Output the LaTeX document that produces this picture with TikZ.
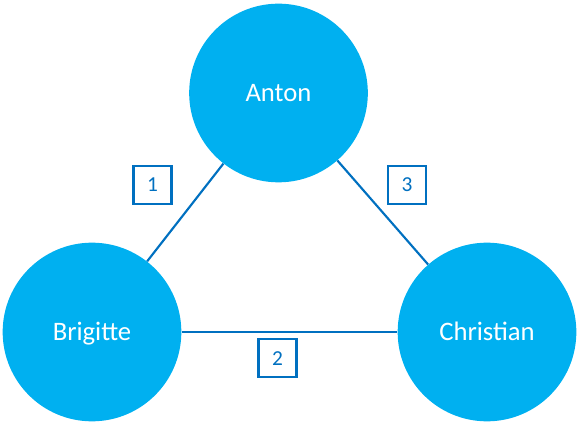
\documentclass[tikz,border=0pt]{standalone}
\usepackage{fontspec}
\setmainfont{Carlito}
\definecolor{cyanfill}{HTML}{00B0F0}
\definecolor{linkblue}{HTML}{0070C0}
\begin{document}
\begin{tikzpicture}[x=0.75pt,y=-0.75pt,
  person/.style={circle,fill=cyanfill,inner sep=0pt,minimum size=134pt,text=white,text height=12.9pt,text depth=0pt,font=\fontsize{20}{24}\selectfont},
  link/.style={draw=linkblue,line width=1.6pt},
  numbox/.style={draw=linkblue,line width=2pt,fill=white,text=linkblue,minimum width=28.5pt,minimum height=28.5pt,inner sep=0pt,text height=10.5pt,text depth=0pt,font=\fontsize{16}{19}\selectfont}]
\useasboundingbox (0,0) rectangle (577,427);
\node[person] (anton) at (278.5,93) {Anton};
\node[person] (brigitte) at (92,332) {Brigitte};
\node[person] (christian) at (487,332) {Christian};
\draw[link] (anton) -- (brigitte);
\draw[link] (brigitte) -- (christian);
\draw[link] (christian) -- (anton);
\node[numbox] (n1) at (152.5,185) {1};
\node[numbox] (n2) at (277.5,358) {2};
\node[numbox] (n3) at (407,185) {3};
\end{tikzpicture}
\end{document}
